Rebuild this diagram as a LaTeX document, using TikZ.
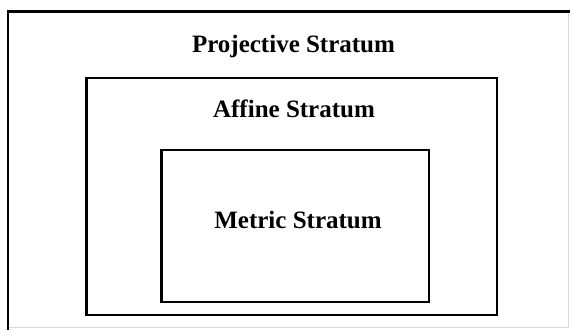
\documentclass[tikz,border=0pt]{standalone}
\usepackage{fontspec}
\setmainfont{Liberation Serif}
\begin{document}
\begin{tikzpicture}[x=1pt,y=-1pt,
  box/.style={draw=black,line width=2.6pt},
  lbl/.style={font=\fontsize{25}{28}\selectfont\bfseries,inner sep=0pt,anchor=base}]
\useasboundingbox (0,0) rectangle (570,331);
\fill[white] (0,0) rectangle (570,331);
% outer box (right and bottom edges faint at image border)
\draw[line width=0.8pt,black!15] (568.5,11.5) -- (568.5,327) -- (8,327);
\draw[line width=2.6pt] (8,330) -- (8,11.5) -- (570,11.5);
\draw[box] (86.5,78) rectangle (497,315);
\draw[box] (161.5,150) rectangle (429,302);
\node[lbl] (proj) at (293.5,53) {Projective Stratum};
\node[lbl] (aff) at (294,118) {Affine Stratum};
\node[lbl] (met) at (298,228) {Metric Stratum};
\end{tikzpicture}
\end{document}
